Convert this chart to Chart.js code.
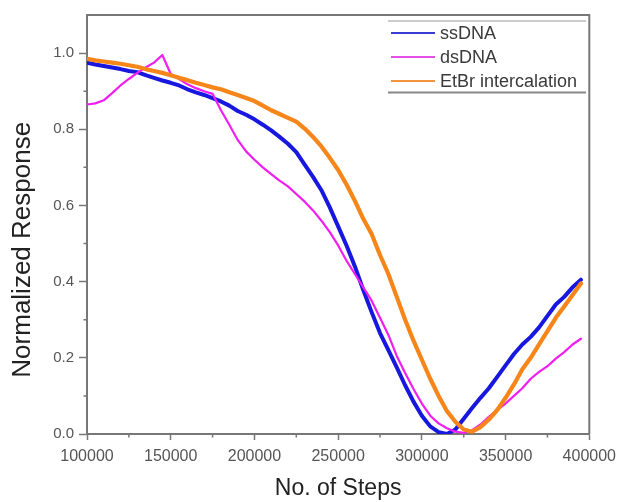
<!DOCTYPE html>
<html>
<head>
<meta charset="utf-8">
<script src="https://cdn.jsdelivr.net/npm/chart.js@4/dist/chart.umd.min.js"></script>
<style>
  html, body { margin: 0; padding: 0; background: #ffffff; }
  #wrap { width: 623px; height: 502px; }
</style>
</head>
<body>
<div id="wrap"><canvas id="c" width="623" height="502"></canvas></div>
<script>
const steps = [100000,105000,110000,115000,120000,125000,130000,135000,140000,145000,
  150000,155000,160000,165000,170000,175000,180000,185000,190000,195000,
  200000,205000,210000,215000,220000,225000,230000,235000,240000,245000,
  250000,255000,260000,265000,270000,275000,280000,285000,290000,295000,
  300000,305000,310000,315000,320000,325000,330000,335000,340000,345000,
  350000,355000,360000,365000,370000,375000,380000,385000,390000,395000];

const ssDNA = [0.975,0.970,0.966,0.962,0.958,0.953,0.950,0.942,0.935,0.928,
  0.922,0.915,0.905,0.897,0.890,0.882,0.873,0.862,0.848,0.838,
  0.826,0.812,0.797,0.780,0.762,0.740,0.707,0.675,0.640,0.595,
  0.545,0.495,0.440,0.378,0.320,0.265,0.220,0.175,0.128,0.085,
  0.048,0.020,0.005,0.000,0.012,0.040,0.068,0.095,0.120,0.150,
  0.180,0.210,0.235,0.255,0.280,0.310,0.340,0.360,0.385,0.405];

const dsDNA = [0.865,0.868,0.876,0.895,0.915,0.932,0.948,0.962,0.975,0.995,
  0.945,0.932,0.918,0.908,0.900,0.893,0.850,0.812,0.772,0.742,
  0.720,0.700,0.682,0.665,0.650,0.630,0.610,0.587,0.560,0.530,
  0.495,0.455,0.420,0.385,0.350,0.305,0.260,0.205,0.160,0.118,
  0.080,0.048,0.028,0.015,0.006,0.003,0.010,0.025,0.045,0.063,
  0.080,0.100,0.120,0.145,0.163,0.178,0.198,0.215,0.235,0.250];

const etbr = [0.985,0.981,0.978,0.975,0.972,0.968,0.964,0.958,0.953,0.948,
  0.942,0.935,0.929,0.922,0.916,0.910,0.905,0.897,0.890,0.882,
  0.874,0.862,0.850,0.840,0.830,0.820,0.802,0.780,0.755,0.725,
  0.693,0.655,0.612,0.565,0.525,0.470,0.420,0.360,0.300,0.245,
  0.195,0.145,0.100,0.060,0.032,0.012,0.006,0.018,0.038,0.063,
  0.095,0.130,0.170,0.200,0.235,0.270,0.305,0.335,0.365,0.395];

const seriesNames = ['ssDNA', 'dsDNA', 'EtBr intercalation'];
const xMajorTicks = [100000,150000,200000,250000,300000,350000,400000];
const xMinorTicks = [125000,175000,225000,275000,325000,375000];
const yMajorTicks = [0.0,0.2,0.4,0.6,0.8,1.0];
const yMinorTicks = [0.1,0.3,0.5,0.7,0.9];
const xTitle = 'No. of Steps';
const yTitle = 'Normalized Response';

const AXIS = '#777777';
const FONT = "'Liberation Sans', Arial, sans-serif";

function pts(vals) { return steps.map((s, i) => ({ x: s, y: vals[i] })); }

const minorTicksPlugin = {
  id: 'minorTicks',
  afterDraw(chart) {
    const ctx = chart.ctx, ca = chart.chartArea;
    const xs = chart.scales.x, ys = chart.scales.y;
    ctx.save();
    ctx.strokeStyle = AXIS;
    ctx.lineWidth = 1.5;
    ctx.beginPath();
    xMinorTicks.forEach(v => {
      const px = xs.getPixelForValue(v);
      ctx.moveTo(px, ca.bottom); ctx.lineTo(px, ca.bottom + 3.5);
    });
    yMinorTicks.forEach(v => {
      const py = ys.getPixelForValue(v);
      ctx.moveTo(ca.left, py); ctx.lineTo(ca.left - 3.5, py);
    });
    ctx.stroke();
    ctx.lineWidth = 2;
    ctx.beginPath();
    ctx.moveTo(ca.left, ca.top); ctx.lineTo(ca.right, ca.top); ctx.lineTo(ca.right, ca.bottom);
    ctx.stroke();
    ctx.restore();
  }
};

const legendPlugin = {
  id: 'boxLegend',
  afterDraw(chart) {
    const ctx = chart.ctx;
    const x0 = 388, x1 = 586, yTop = 21, yBot = 92.5;
    ctx.save();
    ctx.strokeStyle = '#9a9a9a';
    ctx.lineWidth = 1.2;
    ctx.beginPath(); ctx.moveTo(x0, yTop); ctx.lineTo(x1, yTop); ctx.stroke();
    ctx.strokeStyle = '#888888';
    ctx.lineWidth = 2;
    ctx.beginPath(); ctx.moveTo(x0, yBot); ctx.lineTo(x1, yBot); ctx.stroke();
    ctx.font = "18px " + FONT;
    ctx.textBaseline = 'middle';
    ctx.textAlign = 'left';
    chart.data.datasets.forEach((ds, i) => {
      const y = 33 + i * 24;
      ctx.strokeStyle = ds.legendColor;
      ctx.lineWidth = 2.2;
      ctx.beginPath(); ctx.moveTo(391, y); ctx.lineTo(435, y); ctx.stroke();
      ctx.fillStyle = '#3a3a3a';
      ctx.fillText(ds.label, 440, y + 1);
    });
    ctx.restore();
  }
};

new Chart(document.getElementById('c'), {
  type: 'line',
  data: {
    datasets: [
      { label: seriesNames[0], data: pts(ssDNA), borderColor: '#1717e0', legendColor: '#3b3bd6', borderWidth: 4, order: 3 },
      { label: seriesNames[1], data: pts(dsDNA), borderColor: '#f01ef0', legendColor: '#e650e6', borderWidth: 2.2, order: 2 },
      { label: seriesNames[2], data: pts(etbr), borderColor: '#f7861a', legendColor: '#f4953c', borderWidth: 4.2, order: 1 }
    ]
  },
  options: {
    responsive: false,
    devicePixelRatio: 1,
    animation: false,
    layout: { padding: { left: 0, right: 30, top: 15, bottom: 0 } },
    elements: { point: { radius: 0 }, line: { tension: 0, borderJoinStyle: 'round', borderCapStyle: 'round' } },
    plugins: { legend: { display: false }, tooltip: { enabled: false } },
    scales: {
      x: {
        type: 'linear', min: 100000, max: 400000,
        afterFit(scale) { scale.height = 68; },
        afterBuildTicks(scale) { scale.ticks = xMajorTicks.map(v => ({ value: v })); },
        grid: { drawOnChartArea: false, drawTicks: true, tickLength: 6, tickWidth: 1.5, tickColor: AXIS },
        border: { display: true, color: AXIS, width: 2 },
        ticks: { autoSkip: false, maxRotation: 0, padding: 7, color: '#555555',
          font: { family: FONT, size: 16 }, callback: v => String(v) },
        title: { display: true, text: xTitle, color: '#222222',
          font: { family: FONT, size: 23 }, padding: { top: 0, bottom: 0 } }
      },
      y: {
        type: 'linear', min: 0, max: 1.1,
        afterFit(scale) { scale.width = 87; },
        afterBuildTicks(scale) { scale.ticks = yMajorTicks.map(v => ({ value: v })); },
        grid: { drawOnChartArea: false, drawTicks: true, tickLength: 8, tickWidth: 1.5, tickColor: AXIS },
        border: { display: true, color: AXIS, width: 2 },
        ticks: { autoSkip: false, padding: 5, color: '#555555',
          font: { family: FONT, size: 15 }, callback: v => Number(v).toFixed(1) },
        title: { display: true, text: yTitle + '       ', color: '#222222',
          font: { family: FONT, size: 26 }, padding: { top: 7, bottom: 0 } }
      }
    }
  },
  plugins: [minorTicksPlugin, legendPlugin]
});
</script>
</body>
</html>
